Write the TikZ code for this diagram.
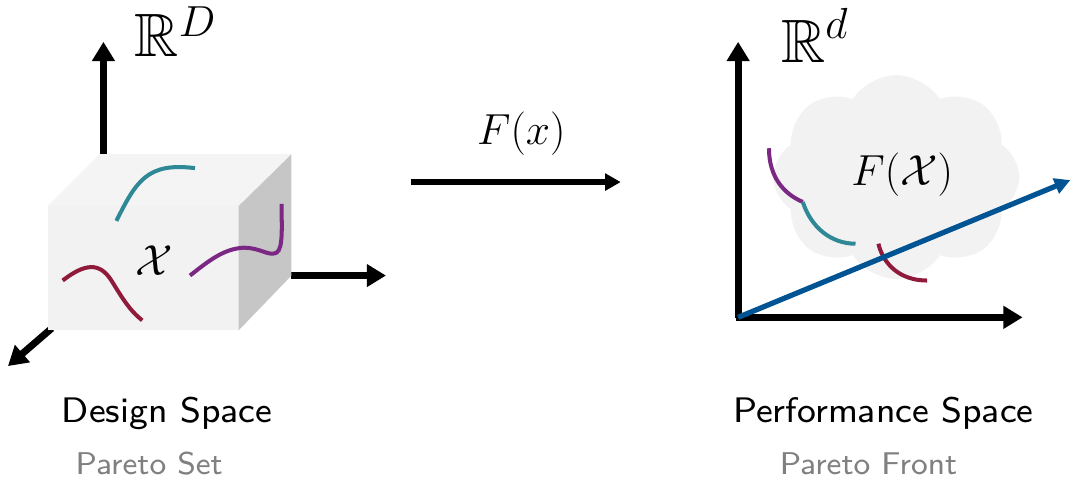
\documentclass[tikz,border=0pt]{standalone}
\usepackage{fontspec}
\usepackage{amssymb}
\usetikzlibrary{arrows.meta,shapes.symbols}
\newfontfamily\labelfont{lmsans8-regular.otf}
\definecolor{tealcurve}{RGB}{47,136,150}
\definecolor{crimsoncurve}{RGB}{143,26,58}
\definecolor{purplecurve}{RGB}{122,40,132}
\definecolor{dirblue}{RGB}{0,84,147}
\definecolor{boxfront}{RGB}{242,242,242}
\definecolor{boxtop}{RGB}{244,244,244}
\definecolor{boxside}{RGB}{198,198,198}
\definecolor{subgray}{RGB}{128,128,128}

\begin{document}
\begin{tikzpicture}[x=0.02cm,y=-0.02cm,
  axisarrow/.style={line width=4pt,-{Triangle[length=11pt,width=12.5pt]}},
  maparrow/.style={line width=3.4pt,-{Triangle[length=9pt,width=9.5pt]}},
  paretocurve/.style={line width=2.3pt},
  spacename/.style={anchor=base west,inner sep=0pt},
  spacelabel/.style={anchor=base,font=\labelfont\fontsize{20.3}{24}\selectfont},
  setlabel/.style={anchor=base,text=subgray,font=\labelfont\fontsize{18}{21}\selectfont}]
\path (0,0) rectangle (1073,479);
\coordinate (dsorigin) at (104,155);
\coordinate (dsup) at (104,42);
\coordinate (dsright) at (388,277);
\coordinate (dsfront) at (8,368);
\draw[axisarrow] (dsorigin) -- (dsup);
\draw[axisarrow] (293,277) -- (dsright);
\draw[axisarrow] (52,330) -- (dsfront);
\fill[boxtop] (48,207) -- (100,155) -- (293,155) -- (240,207) -- cycle;
\fill[boxfront] (48,207) rectangle (240,332);
\fill[boxside] (240,207) -- (293,155) -- (293,277) -- (240,332) -- cycle;
\draw[paretocurve,tealcurve] (117,222) .. controls (137,182) and (148,163) .. (196,169);
\draw[paretocurve,crimsoncurve] (63,282) .. controls (85,265) and (100,263) .. (112,282) .. controls (122,298) and (130,312) .. (143,322);
\draw[paretocurve,purplecurve] (191,277) .. controls (210,262) and (225,250) .. (245,249) .. controls (262,249) and (270,258) .. (278,254) .. controls (285,250) and (283,225) .. (283,205);
\node (designset) at (155,262) {\fontsize{28}{32}\selectfont$\mathcal{X}$};
\node[spacename] (rD) at (135,57) {\fontsize{35}{40}\selectfont$\mathbb{R}$\raisebox{11.5pt}[0pt][0pt]{\fontsize{24}{27}\selectfont$D$}};
\coordinate (mapstart) at (413,183);
\coordinate (mapend) at (624,183);
\draw[maparrow] (mapstart) -- (mapend);
\node (maplabel) at (524,134) {\fontsize{28}{32}\selectfont$F(x)$};
\node[cloud,cloud puffs=8,cloud puff arc=115,aspect=1.2,fill=boxfront,draw=none,
  minimum width=4.95cm,minimum height=4.1cm] (image) at (901,178) {};
\coordinate (psorigin) at (742,319);
\coordinate (psup) at (742,42);
\coordinate (psright) at (1028,319);
\coordinate (psdir) at (1076,181);
\draw[axisarrow] (742,320) -- (psup);
\draw[axisarrow] (740,319) -- (psright);
\draw[paretocurve,purplecurve] (773,149) .. controls (773,178) and (788,195) .. (807,203);
\draw[paretocurve,tealcurve] (807,203) .. controls (815,228) and (835,245) .. (860,245);
\draw[paretocurve,crimsoncurve] (883,245) .. controls (888,266) and (905,282) .. (932,282);
\draw[line width=3pt,dirblue,-{Triangle[length=9pt,width=9pt]}] (psorigin) -- (psdir);
\node (imagelabel) at (907,176) {\fontsize{28.5}{32}\selectfont$F(\mathcal{X})$};
\node[spacename] (rd) at (785,63) {\fontsize{35}{40}\selectfont$\mathbb{R}$\raisebox{14pt}{\fontsize{24.5}{28}\selectfont$d$}};
\node[spacelabel] (design) at (168,425) {Design Space};
\node[setlabel] (paretoset) at (150,477) {Pareto Set};
\node[spacelabel] (performance) at (888,425) {Performance Space};
\node[setlabel] (paretofront) at (873,477) {Pareto Front};
\end{tikzpicture}
\end{document}
